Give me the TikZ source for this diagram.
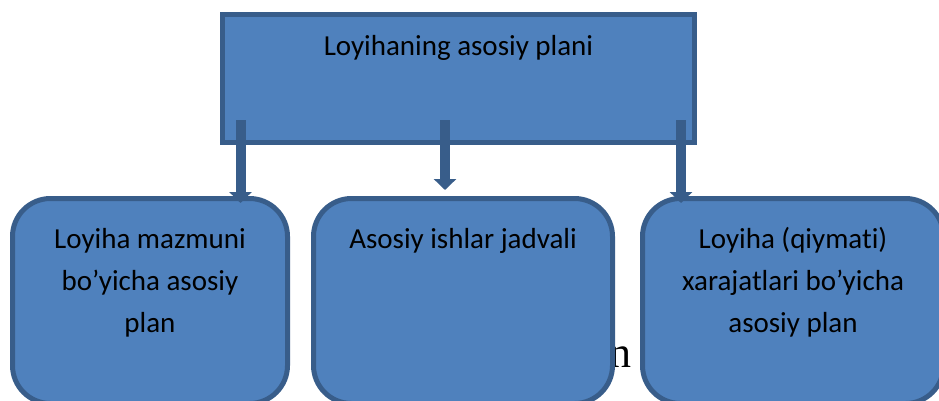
\documentclass[tikz,border=0pt]{standalone}
\usepackage{fontspec}
\setmainfont[Ligatures={NoCommon,NoContextual}]{Carlito}
\newfontfamily\serifn{Liberation Serif}
\usetikzlibrary{arrows.meta}
\definecolor{boxfill}{HTML}{4F81BD}
\definecolor{boxline}{HTML}{385D8A}
\begin{document}
\begin{tikzpicture}[x=1pt,y=-1pt,
  topbox/.style={draw=boxline,fill=boxfill,line width=5pt,minimum width=472pt,minimum height=128pt,inner sep=0pt},
  subbox/.style={draw=boxline,fill=boxfill,line width=5pt,rounded corners=38pt,inner sep=0pt,minimum height=205pt},
  lbl/.style={font=\fontsize{29}{42}\selectfont,align=center,anchor=base,inner sep=0pt},
  arr/.style={draw=boxline,line width=10pt,-{Triangle[width=22pt,length=11pt]}}]
\useasboundingbox (0,0) rectangle (939,400);
\fill[white] (0,0) rectangle (939,400);
% stray glyph behind the middle box
\node[font=\serifn\fontsize{44}{44}\selectfont,anchor=base west,inner sep=0pt] (stray) at (609,367) {n};
% top box
\node[topbox] (top) at (458.5,78.5) {};
\node[lbl] (toptext) at (458.5,55) {Loyihaning asosiy plani};
% bottom boxes
\node[subbox,minimum width=275pt] (b1) at (150,301) {};
\node[subbox,minimum width=299pt] (b2) at (463,301) {};
\node[subbox,minimum width=301pt] (b3) at (793,301) {};
% (base anchor of a multi-line node = baseline of its last line)
\node[lbl] (t1) at (150,332) {Loyiha mazmuni\\bo’yicha asosiy\\plan};
\node[lbl] (t2) at (463,248) {Asosiy ishlar jadvali};
\node[lbl] (t3) at (793,332) {Loyiha (qiymati)\\xarajatlari bo’yicha\\asosiy plan};
% arrows
\coordinate (a1s) at (240.5,120);
\coordinate (a1e) at (240.5,203);
\coordinate (a2s) at (445,120);
\coordinate (a2e) at (445,190);
\coordinate (a3s) at (681,120);
\coordinate (a3e) at (681,203);
\draw[arr] (a1s) -- (a1e);
\draw[arr] (a2s) -- (a2e);
\draw[arr] (a3s) -- (a3e);
\end{tikzpicture}
\end{document}
